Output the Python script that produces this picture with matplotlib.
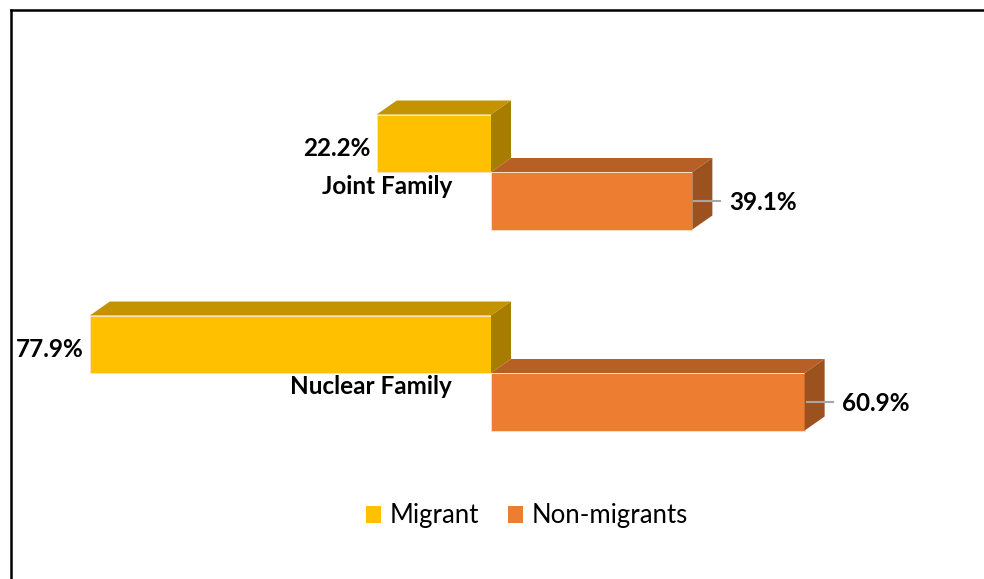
import matplotlib.pyplot as plt
from matplotlib.patches import Polygon, Patch
from matplotlib.lines import Line2D

plt.rcParams["font.family"] = ["Lato", "DejaVu Sans"]

# ---------------------------------------------------------------------------
# Data
# ---------------------------------------------------------------------------
categories = ["Nuclear Family", "Joint Family"]
migrant = [77.9, 22.2]
non_migrant = [60.9, 39.1]
series = ["Migrant", "Non-migrants"]

# colours: front, top, side
MIG = ("#FFC000", "#C49400", "#A67D00")
NON = ("#ED7D31", "#B85F26", "#9C521F")

# ---------------------------------------------------------------------------
# Scales (pixels per unit) so the 3D depth can be given in pixels
# ---------------------------------------------------------------------------
W, H_PX = 984, 579
PX_X = 5.15     # px per percent
PX_Y = 201.0    # px per category step
X0, Y0 = 491, 373

fig = plt.figure(figsize=(W / 100, H_PX / 100), dpi=100)
ax = fig.add_axes([0, 0, 1, 1])
ax.set_xlim(-X0 / PX_X, (W - X0) / PX_X)
ax.set_ylim((Y0 - H_PX) / PX_Y, Y0 / PX_Y)
ax.axis("off")

BAR_H = 57.5 / PX_Y
DX = 20 / PX_X
DY = 14 / PX_Y
FS = 17.5


def box(x0, x1, y0, y1, cols):
    front, top, side = cols
    ax.add_patch(Polygon([(x0, y0), (x1, y0), (x1, y1), (x0, y1)],
                         closed=True, fc=front, ec="#FBE3C8", lw=0.6))
    ax.add_patch(Polygon([(x0, y1), (x0 + DX, y1 + DY), (x1 + DX, y1 + DY), (x1, y1)],
                         closed=True, fc=top, ec="none"))
    ax.add_patch(Polygon([(x1, y0), (x1 + DX, y0 + DY), (x1 + DX, y1 + DY), (x1, y1)],
                         closed=True, fc=side, ec="none"))


for i, cat in enumerate(categories):
    c = i
    m, n = migrant[i], non_migrant[i]
    box(-m, 0, c, c + BAR_H, MIG)
    box(0, n, c - BAR_H, c, NON)

    # migrant label, left of bar
    ax.text(-m - 6 / PX_X, c + BAR_H / 2 - 5 / PX_Y, f"{m}%", ha="right", va="center",
            fontsize=FS, fontweight="bold", color="black")
    # non-migrant label with leader line
    yc = c - BAR_H / 2
    ax.plot([n + 2 / PX_X, n + 28 / PX_X], [yc, yc], color="#A6A6A6", lw=1.5)
    ax.text(n + 37 / PX_X, yc - 2 / PX_Y, f"{n}%", ha="left", va="center",
            fontsize=FS, fontweight="bold", color="black")
    # category label
    ax.text(-39 / PX_X, c - 14 / PX_Y, cat, ha="right", va="center",
            fontsize=FS, fontweight="bold", color="black")

handles = [Patch(fc=MIG[0], ec="none"), Patch(fc=NON[0], ec="none")]
fig.legend(handles, series, loc="center", bbox_to_anchor=(527 / W, 1 - 516 / H_PX),
           ncol=2, frameon=False, fontsize=18.5, handlelength=0.6, handleheight=0.6,
           handletextpad=0.35, columnspacing=1.1)

# outer frame (only top and left edges visible)
fig.add_artist(Line2D([10.5 / W, 1], [1 - 9.5 / H_PX, 1 - 9.5 / H_PX],
                      transform=fig.transFigure, color="black", lw=1.8))
fig.add_artist(Line2D([10.5 / W, 10.5 / W], [0, 1 - 9.5 / H_PX],
                      transform=fig.transFigure, color="black", lw=1.8))

fig.savefig("out.png", dpi=100)
